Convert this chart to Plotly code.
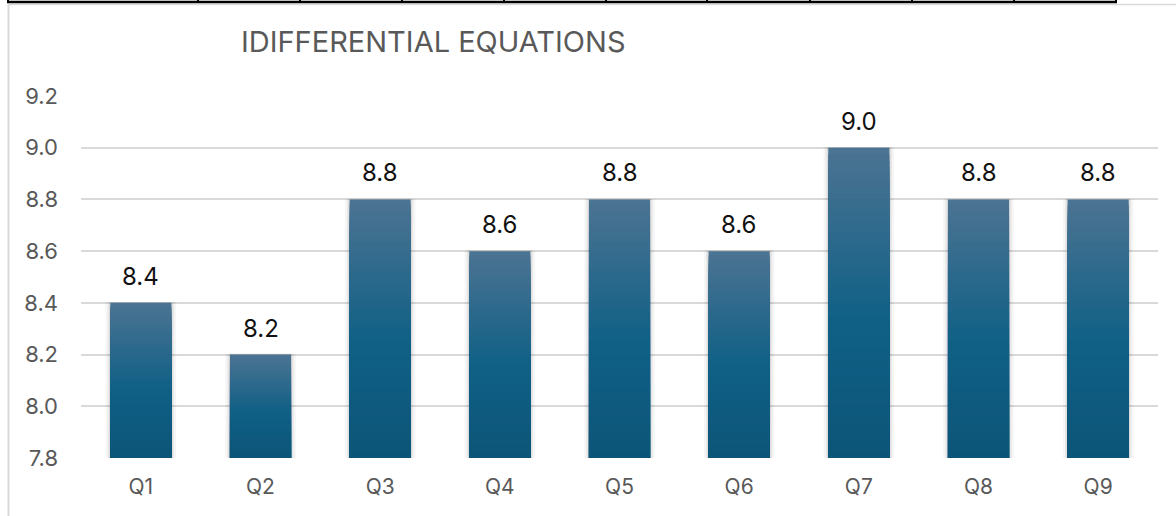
import plotly.graph_objects as go

categories = ["Q1", "Q2", "Q3", "Q4", "Q5", "Q6", "Q7", "Q8", "Q9"]
values = [8.4, 8.2, 8.8, 8.6, 8.8, 8.6, 9.0, 8.8, 8.8]
y_ticks = [7.8, 8.0, 8.2, 8.4, 8.6, 8.8, 9.0, 9.2]
title_text = "IDIFFERENTIAL EQUATIONS"

Y_MIN, Y_MAX = 7.8, 9.2
W, H = 1176, 516
L, R, T, B = 81, 18, 96, 58
PW, PH = W - L - R, H - T - B

FONT = "Inter, 'Open Sans', sans-serif"

def px_x(p):
    return (p - L) / PW

def px_y(p):
    return (H - B - p) / PH

def lerp(c1, c2, t):
    return tuple(round(a + (b - a) * t) for a, b in zip(c1, c2))

top_c = (0x4b, 0x73, 0x92)
mid_c = (0x10, 0x60, 0x86)
bot_c = (0x0c, 0x55, 0x78)

def grad(t):  # t=0 top, 1 bottom
    if t < 0.55:
        c = lerp(top_c, mid_c, t / 0.55)
    else:
        c = lerp(mid_c, bot_c, (t - 0.55) / 0.45)
    return "rgb(%d,%d,%d)" % c

fig = go.Figure()

# soft shadow behind bars
for w, a in [(0.59, 0.035), (0.555, 0.05), (0.53, 0.07)]:
    fig.add_trace(go.Bar(
        x=categories, y=[v - Y_MIN + 0.006 for v in values], base=Y_MIN - 0.003,
        width=w, marker=dict(color="rgba(0,0,0,%g)" % a, line=dict(width=0)),
        hoverinfo="skip", showlegend=False))

# gradient bars: tallest (top colour) first, shorter (darker) layers on top
K = 48
for k in range(K):
    frac = (K - k) / K
    t = k / (K - 1)
    fig.add_trace(go.Bar(
        x=categories, y=[(v - Y_MIN) * frac for v in values], base=Y_MIN,
        width=0.51,
        marker=dict(color=grad(t), line=dict(width=0)),
        hoverinfo="skip", showlegend=False))

for c, v in zip(categories, values):
    fig.add_annotation(x=c, y=v, text="%.1f" % v, showarrow=False,
                       yanchor="bottom", yshift=10,
                       font=dict(family=FONT, size=24, color="#111111"))

shapes = []
# chart border (light gray)
shapes.append(dict(type="line", xref="paper", yref="paper",
                   x0=px_x(8.5), x1=px_x(8.5), y0=px_y(4), y1=px_y(520),
                   line=dict(color="#d9d9d9", width=2)))
shapes.append(dict(type="line", xref="paper", yref="paper",
                   x0=px_x(8), x1=px_x(1180), y0=px_y(4.5), y1=px_y(4.5),
                   line=dict(color="#d9d9d9", width=1.5)))
# spreadsheet cell borders on top
shapes.append(dict(type="line", xref="paper", yref="paper",
                   x0=px_x(7), x1=px_x(1117), y0=px_y(2), y1=px_y(2),
                   line=dict(color="#000000", width=2.5)))
for xp in [8, 198, 300, 402, 504, 606, 707, 810, 912, 1014, 1116]:
    shapes.append(dict(type="line", xref="paper", yref="paper",
                       x0=px_x(xp), x1=px_x(xp), y0=px_y(-2), y1=px_y(3),
                       line=dict(color="#000000", width=2)))

fig.update_layout(
    width=W, height=H,
    margin=dict(l=L, r=R, t=T, b=B),
    paper_bgcolor="white", plot_bgcolor="white",
    barmode="overlay", bargap=0.49,
    showlegend=False,
    shapes=shapes,
    title=dict(text=title_text, x=241 / W, xanchor="left",
               y=1 - 42 / H, yanchor="middle",
               font=dict(family=FONT, size=29, color="#595959")),
    font=dict(family=FONT, color="#595959"),
)
fig.update_xaxes(showgrid=False, ticks="", showline=False,
                 ticklabelstandoff=14,
                 tickfont=dict(family=FONT, size=21, color="#595959"))
fig.update_yaxes(range=[Y_MIN, Y_MAX], tickvals=y_ticks, tickformat=".1f",
                 showgrid=True, gridcolor="#d9d9d9", gridwidth=1.5,
                 zeroline=False, showline=False, ticks="",
                 ticklabelstandoff=22,
                 tickfont=dict(family=FONT, size=22, color="#595959"))

fig.write_html("out.html", config={"displayModeBar": False},
               post_script="document.body.style.margin='0';document.body.style.overflow='hidden';")
